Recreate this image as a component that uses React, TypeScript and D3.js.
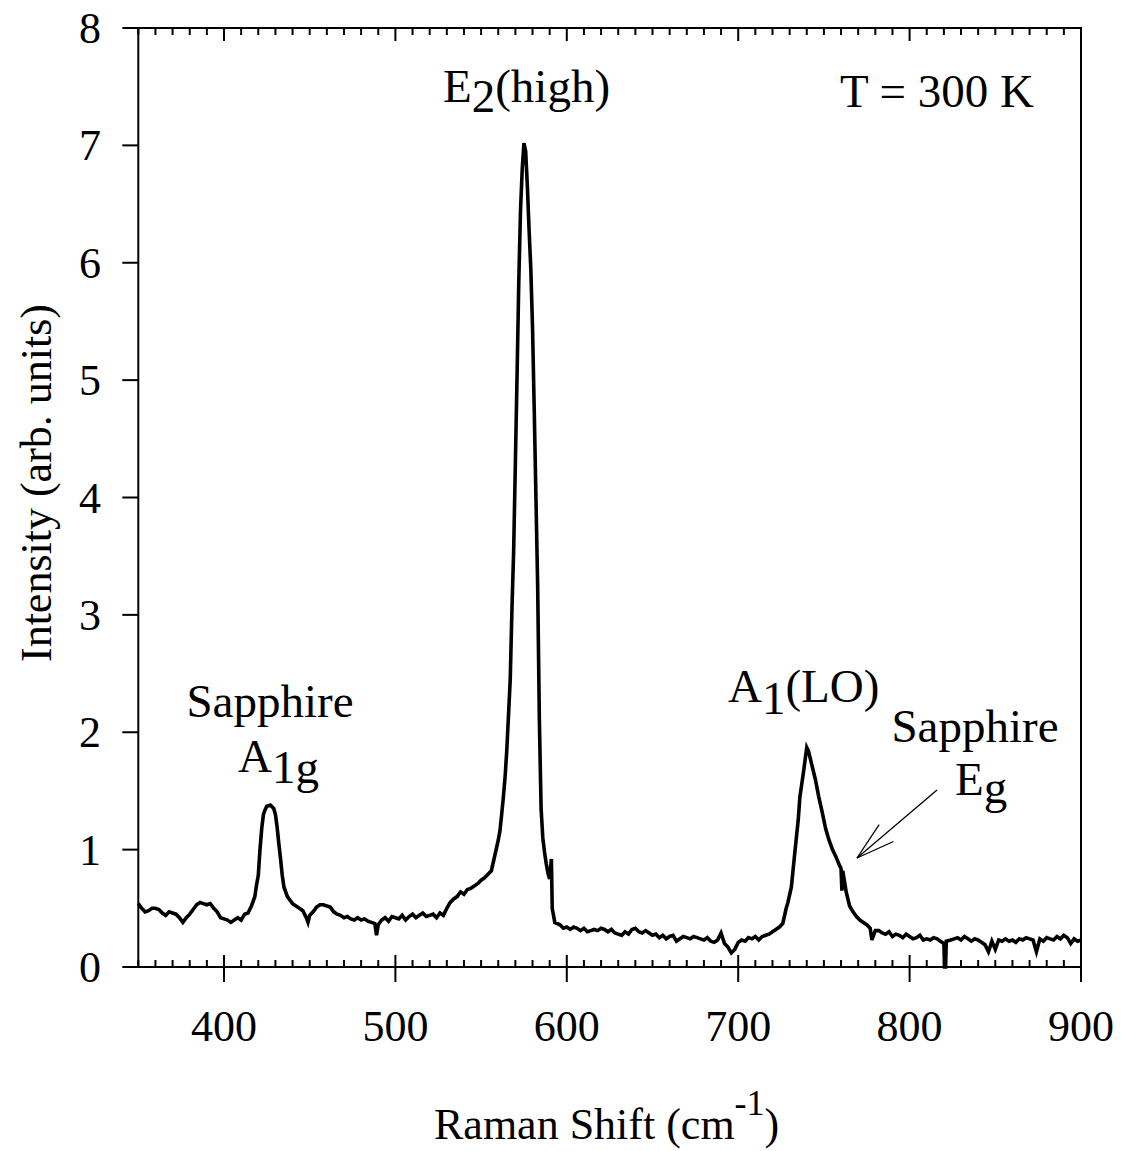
import React from "react";
import * as d3 from "d3";

// Raman spectrum: [Raman shift (cm-1), intensity (arb. units)]
const spectrum: [number, number][] = [
  [350, 0.54], [352, 0.50], [354, 0.47], [356, 0.48], [358, 0.50], [360, 0.50], [362, 0.49], [364, 0.46],
  [366, 0.44], [368, 0.47], [370, 0.46], [372, 0.45], [374, 0.42], [376, 0.38], [378, 0.42], [380, 0.45],
  [382, 0.49], [384, 0.53], [386, 0.55], [388, 0.54], [390, 0.53], [392, 0.54], [394, 0.50], [396, 0.47],
  [398, 0.42], [400, 0.41], [402, 0.40], [404, 0.38], [406, 0.40], [408, 0.42], [410, 0.40], [412, 0.45],
  [414, 0.46], [416, 0.52], [418, 0.60], [419, 0.70], [420, 0.78], [421, 1.00], [422, 1.18], [423, 1.30],
  [424, 1.34], [425, 1.37], [427, 1.38], [429, 1.35], [430, 1.30], [431, 1.19], [432, 1.05], [433, 0.92],
  [434, 0.78], [435, 0.68], [437, 0.60], [440, 0.54], [442, 0.52], [444, 0.50], [446, 0.48], [448, 0.42],
  [449, 0.38], [450, 0.44], [452, 0.47], [454, 0.51], [456, 0.53], [458, 0.53], [460, 0.52], [462, 0.51],
  [464, 0.47], [466, 0.45], [468, 0.44], [470, 0.42], [472, 0.43], [474, 0.41], [476, 0.40], [478, 0.42],
  [480, 0.40], [482, 0.41], [484, 0.39], [486, 0.38], [488, 0.37], [489, 0.27], [490, 0.36], [492, 0.40],
  [494, 0.42], [496, 0.39], [498, 0.43], [500, 0.42], [502, 0.41], [504, 0.44], [506, 0.40], [508, 0.43],
  [510, 0.45], [512, 0.42], [514, 0.44], [516, 0.46], [518, 0.43], [520, 0.44], [522, 0.45], [524, 0.42],
  [526, 0.46], [528, 0.44], [530, 0.50], [532, 0.55], [534, 0.58], [536, 0.60], [538, 0.64], [540, 0.62],
  [542, 0.66], [544, 0.67], [546, 0.69], [548, 0.71], [550, 0.74], [552, 0.76], [554, 0.79], [556, 0.82],
  [558, 0.95], [560, 1.08], [561, 1.16], [562, 1.30], [563, 1.45], [564, 1.62], [565, 1.85], [566, 2.15],
  [567, 2.45], [568, 3.05], [569, 3.55], [570, 4.30], [571, 5.05], [572, 5.85], [573, 6.45], [574, 6.80],
  [575, 7.02], [576, 6.95], [577, 6.65], [578, 6.28], [579, 5.95], [580, 5.45], [581, 4.75], [582, 4.00],
  [583, 3.25], [584, 2.10], [585, 1.35], [586, 1.10], [587, 0.98], [588, 0.88], [589, 0.80], [590, 0.75],
  [591, 0.92], [591.5, 0.50], [593, 0.38], [596, 0.36], [598, 0.33], [600, 0.34], [602, 0.32], [604, 0.34],
  [606, 0.33], [608, 0.31], [610, 0.33], [612, 0.30], [614, 0.31], [616, 0.32], [618, 0.31], [620, 0.33],
  [622, 0.32], [624, 0.30], [626, 0.32], [628, 0.29], [630, 0.28], [632, 0.27], [634, 0.30], [636, 0.28],
  [638, 0.32], [640, 0.33], [642, 0.30], [644, 0.29], [646, 0.31], [648, 0.29], [650, 0.27], [652, 0.28],
  [654, 0.25], [656, 0.27], [658, 0.24], [660, 0.26], [662, 0.27], [664, 0.22], [666, 0.24], [668, 0.26],
  [670, 0.25], [672, 0.24], [674, 0.26], [676, 0.25], [678, 0.24], [680, 0.23], [682, 0.25], [684, 0.22],
  [686, 0.21], [688, 0.23], [690, 0.29], [692, 0.20], [694, 0.17], [696, 0.12], [698, 0.15], [700, 0.21],
  [702, 0.23], [704, 0.22], [706, 0.25], [708, 0.24], [710, 0.26], [712, 0.23], [714, 0.26], [716, 0.27],
  [718, 0.28], [720, 0.30], [722, 0.32], [724, 0.34], [726, 0.37], [728, 0.50], [729, 0.55], [731, 0.68],
  [733, 0.97], [735, 1.25], [736, 1.45], [738, 1.65], [740, 1.87], [741, 1.84], [743, 1.72], [745, 1.60],
  [747, 1.45], [749, 1.32], [751, 1.18], [753, 1.08], [755, 1.00], [757, 0.94], [759, 0.87], [760, 0.84],
  [760.5, 0.65], [761, 0.82], [763, 0.64], [765, 0.52], [767, 0.47], [769, 0.43], [771, 0.40], [773, 0.38],
  [775, 0.36], [777, 0.33], [778, 0.23], [780, 0.31], [782, 0.31], [784, 0.29], [786, 0.28], [788, 0.30],
  [790, 0.26], [792, 0.28], [794, 0.27], [796, 0.25], [798, 0.28], [800, 0.26], [802, 0.24], [804, 0.25],
  [806, 0.27], [808, 0.23], [810, 0.24], [812, 0.23], [814, 0.25], [816, 0.24], [818, 0.22], [820, 0.20],
  [820.4, 0.0], [821, 0.0], [821.4, 0.22], [824, 0.23], [826, 0.24], [828, 0.25], [830, 0.23], [832, 0.26],
  [834, 0.24], [836, 0.22], [838, 0.24], [840, 0.23], [842, 0.21], [844, 0.19], [846, 0.13], [848, 0.22],
  [850, 0.15], [852, 0.23], [854, 0.22], [856, 0.24], [858, 0.22], [860, 0.23], [862, 0.21], [864, 0.24],
  [866, 0.23], [868, 0.25], [870, 0.24], [872, 0.23], [874, 0.13], [876, 0.24], [878, 0.22], [880, 0.25],
  [882, 0.24], [884, 0.23], [886, 0.26], [888, 0.24], [890, 0.27], [892, 0.25], [894, 0.20], [896, 0.24],
  [898, 0.22], [900, 0.23],
];

const xDomain: [number, number] = [350, 900];
const yDomain: [number, number] = [0, 8];
const xMajorTicks = [400, 500, 600, 700, 800, 900];
const yMajorTicks = [0, 1, 2, 3, 4, 5, 6, 7, 8];

const FONT = "'Liberation Serif', 'Times New Roman', serif";

export default function App() {
  const W = 1121;
  const H = 1151;
  const left = 138.3, right = 1081, top = 28, bottom = 967;
  const x = d3.scaleLinear().domain(xDomain).range([left, right]);
  const y = d3.scaleLinear().domain(yDomain).range([bottom, top]);

  const line = d3
    .line<[number, number]>()
    .x((d) => x(d[0]))
    .y((d) => y(d[1]));

  const minorTicks = d3.range(xDomain[0], xDomain[1] + 0.1, 10).filter((v) => v % 100 !== 0);

  // arrow for Sapphire Eg
  const tip = [857, 858];
  const tail = [937, 790];
  const ang = Math.atan2(tail[1] - tip[1], tail[0] - tip[0]);
  const barbLen = 40;
  const barbAng = (16 * Math.PI) / 180;
  const b1 = [tip[0] + barbLen * Math.cos(ang - barbAng), tip[1] + barbLen * Math.sin(ang - barbAng)];
  const b2 = [tip[0] + barbLen * Math.cos(ang + barbAng), tip[1] + barbLen * Math.sin(ang + barbAng)];

  return (
    <svg
      width={W}
      height={H}
      style={{ position: "absolute", left: 0, top: 0, background: "#fff" }}
      fontFamily={FONT}
    >
      <rect x={0} y={0} width={W} height={H} fill="#fff" />
      {/* frame */}
      <rect x={left} y={top} width={right - left} height={bottom - top} fill="none" stroke="#000" strokeWidth={2} />

      {/* bottom & top x ticks */}
      {minorTicks.map((v) => (
        <g key={"m" + v}>
          <line x1={x(v)} x2={x(v)} y1={bottom} y2={bottom - 7} stroke="#000" strokeWidth={2} />
          <line x1={x(v)} x2={x(v)} y1={top} y2={top + 7} stroke="#000" strokeWidth={2} />
        </g>
      ))}
      {xMajorTicks.map((v) => (
        <g key={"M" + v}>
          <line x1={x(v)} x2={x(v)} y1={bottom - 12} y2={bottom + 15} stroke="#000" strokeWidth={2} />
          <line x1={x(v)} x2={x(v)} y1={top} y2={top + 13} stroke="#000" strokeWidth={2} />
          <text x={x(v)} y={1041} fontSize={44} textAnchor="middle" fill="#000">
            {v}
          </text>
        </g>
      ))}

      {/* y ticks */}
      {yMajorTicks.map((v) => (
        <g key={"y" + v}>
          <line x1={left - 16} x2={left} y1={y(v)} y2={y(v)} stroke="#000" strokeWidth={2} />
          <text x={101} y={y(v) + 15} fontSize={44} textAnchor="end" fill="#000">
            {v}
          </text>
        </g>
      ))}

      {/* spectrum */}
      <path d={line(spectrum) || ""} fill="none" stroke="#000" strokeWidth={3.6} strokeLinejoin="miter" />

      {/* axis titles */}
      <text
        transform={`translate(51, 483) rotate(-90)`}
        fontSize={44}
        textAnchor="middle"
        fill="#000"
      >
        Intensity (arb. units)
      </text>
      <text x={434} y={1139} fontSize={44} fill="#000">
        Raman Shift (cm
        <tspan dy={-24} fontSize={36}>-1</tspan>
        <tspan dy={24}>)</tspan>
      </text>

      {/* annotations */}
      <text x={840} y={107} fontSize={47} fill="#000">T = 300 K</text>
      <text x={443} y={102} fontSize={47} fill="#000">
        E<tspan dy={10}>2</tspan>
        <tspan dy={-10}>(high)</tspan>
      </text>
      <text x={270} y={717} fontSize={47} textAnchor="middle" fill="#000">Sapphire</text>
      <text x={238} y={772} fontSize={47} fill="#000">
        A<tspan dy={11}>1g</tspan>
      </text>
      <text x={728} y={702} fontSize={47} fill="#000">
        A<tspan dy={12}>1</tspan>
        <tspan dy={-12}>(LO)</tspan>
      </text>
      <text x={975} y={742} fontSize={47} textAnchor="middle" fill="#000">Sapphire</text>
      <text x={955} y={795} fontSize={47} fill="#000">
        E<tspan dy={8}>g</tspan>
      </text>

      {/* arrow */}
      <line x1={tail[0]} y1={tail[1]} x2={tip[0]} y2={tip[1]} stroke="#000" strokeWidth={1.3} />
      <line x1={tip[0]} y1={tip[1]} x2={b1[0]} y2={b1[1]} stroke="#000" strokeWidth={1.3} />
      <line x1={tip[0]} y1={tip[1]} x2={b2[0]} y2={b2[1]} stroke="#000" strokeWidth={1.3} />
    </svg>
  );
}
